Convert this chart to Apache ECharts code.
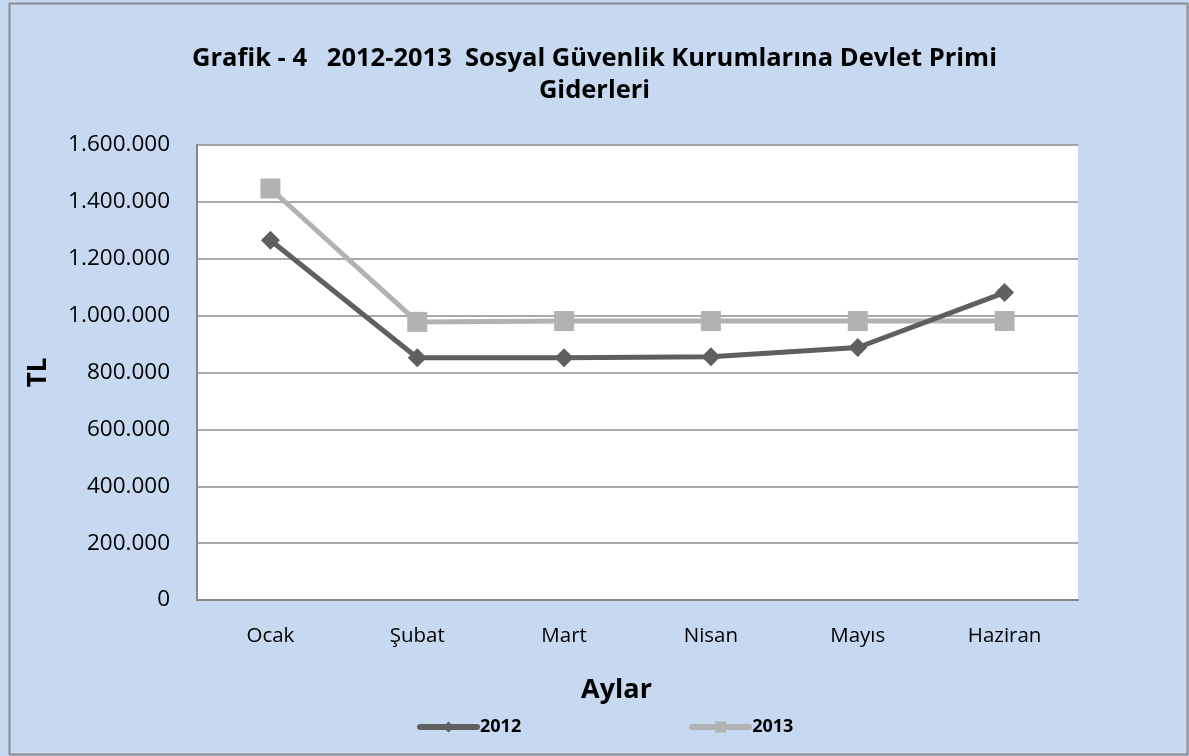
<!DOCTYPE html>
<html>
<head>
<meta charset="utf-8">
<script src="https://cdn.jsdelivr.net/npm/echarts@6/dist/echarts.min.js"></script>
<style>
  html, body { margin: 0; padding: 0; background: #ffffff; }
  #chart { width: 1189px; height: 756px; }
</style>
</head>
<body>
<div id="chart"></div>
<script>
// veriler
const aylar = ['Ocak', 'Şubat', 'Mart', 'Nisan', 'Mayıs', 'Haziran']
const yil2012 = [1265000, 852000, 852000, 855000, 888000, 1081000]
const yil2013 = [1447000, 978000, 981000, 981000, 981000, 981000]

const fontAile = '"Open Sans", "DejaVu Sans", sans-serif'

const mChart = echarts.init(document.getElementById('chart'))

const options = {
  backgroundColor: '#c6d9f1',
  textStyle: { fontFamily: fontAile },
  title: {
    text: 'Grafik - 4   2012-2013  Sosyal Güvenlik Kurumlarına Devlet Primi\nGiderleri',
    left: 'center',
    top: 38,
    textStyle: {
      fontFamily: fontAile,
      fontSize: 25.5,
      fontWeight: 'bold',
      color: '#000',
      lineHeight: 32
    }
  },
  // dış çerçeve
  graphic: [{
    type: 'rect',
    shape: { x: 9.5, y: 3.5, width: 1178, height: 751 },
    style: { fill: 'none', stroke: '#8c8c8c', lineWidth: 2 },
    silent: true
  }],
  legend: {
    bottom: 15,
    left: 412,
    itemWidth: 57,
    itemHeight: 14,
    itemGap: 168,
    lineStyle: { width: 6, cap: 'round' },
    textStyle: { fontFamily: fontAile, fontSize: 18, fontWeight: 'bold', color: '#000', padding: [0, 0, 0, -2] },
    data: ['2012', '2013']
  },
  grid: {
    left: 197,
    right: 111,
    top: 145,
    bottom: 156,
    show: true,
    backgroundColor: '#ffffff',
    borderWidth: 0
  },
  xAxis: {
    type: 'category',
    data: aylar,
    name: 'Aylar',
    nameLocation: 'middle',
    nameGap: 77,
    nameTextStyle: { fontFamily: fontAile, fontSize: 27, fontWeight: 'bold', color: '#000', padding: [0, 42, 0, 0] },
    axisLine: { show: true, lineStyle: { color: '#868686', width: 2 } },
    axisTick: { show: false },
    axisLabel: { color: '#000', fontSize: 20.5, margin: 26 }
  },
  yAxis: {
    type: 'value',
    min: 0,
    max: 1600000,
    interval: 200000,
    name: 'TL',
    nameLocation: 'middle',
    nameGap: 145,
    nameTextStyle: { fontFamily: fontAile, fontSize: 26, fontWeight: 'bold', color: '#000' },
    axisLine: { show: true, lineStyle: { color: '#868686', width: 2 } },
    axisTick: { show: false },
    splitLine: { lineStyle: { color: '#8c8c8c', width: 1.5 } },
    axisLabel: {
      color: '#000',
      fontSize: 22.5,
      margin: 27,
      formatter: v => v === 0 ? '0' : v.toString().replace(/\B(?=(\d{3})+(?!\d))/g, '.')
    }
  },
  series: [
    {
      name: '2012',
      type: 'line',
      data: yil2012,
      symbol: 'diamond',
      symbolSize: 19,
      lineStyle: { color: '#5f5f5f', width: 5 },
      itemStyle: { color: '#5f5f5f' },
      z: 3
    },
    {
      name: '2013',
      type: 'line',
      data: yil2013,
      symbol: 'rect',
      symbolSize: 20,
      lineStyle: { color: '#b2b2b2', width: 5 },
      itemStyle: { color: '#b2b2b2' },
      z: 2
    }
  ]
}

mChart.setOption(options)
</script>
</body>
</html>
